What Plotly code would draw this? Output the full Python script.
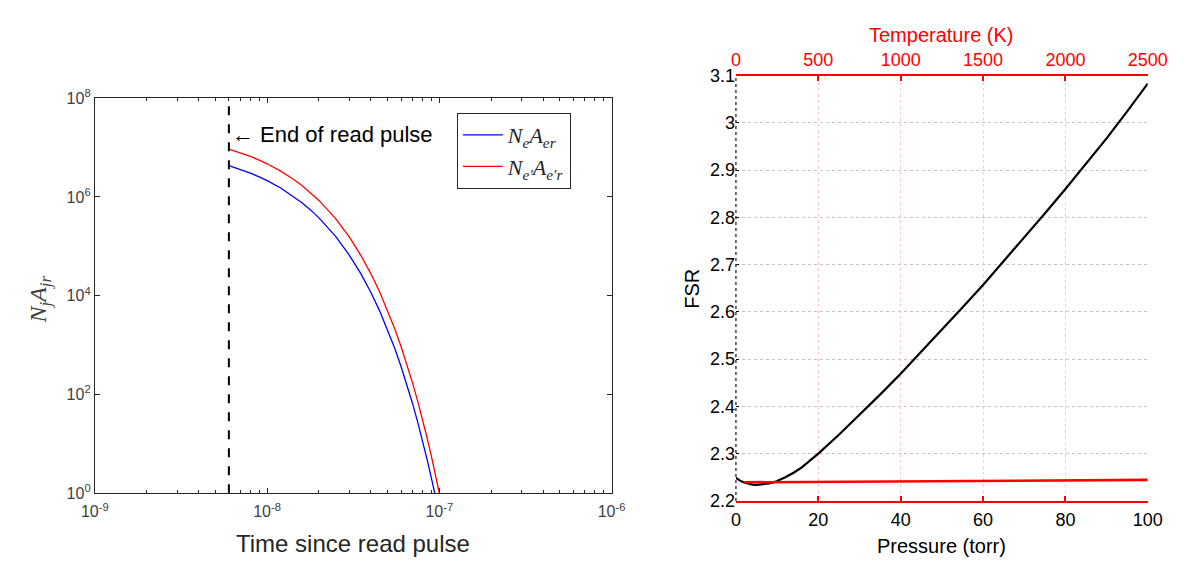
import plotly.graph_objects as go

# ---------------- data: left panel ----------------
t_pulse_end = 6e-9
t_blue_ns = [6, 7, 8, 9, 10, 12, 14, 16, 18, 20, 25, 30, 35, 40, 45, 50, 55, 60, 65, 70, 75, 80, 85, 90, 94]
n_blue = [4.3e6, 3.61e6, 3.04e6, 2.55e6, 2.15e6, 1.52e6, 1.07e6, 7.58e5, 5.35e5, 3.78e5, 1.59e5,
          6.67e4, 2.80e4, 1.18e4, 4.94e3, 2.07e3, 870, 365, 153, 64.4, 27.0, 11.3, 4.75, 2.0, 1.0]
t_red_ns = [6, 7, 8, 9, 10, 12, 14, 16, 18, 20, 25, 30, 35, 40, 45, 50, 55, 60, 65, 70, 75, 80, 85, 90, 95, 100]
n_red = [9.3e6, 7.84e6, 6.61e6, 5.57e6, 4.70e6, 3.34e6, 2.37e6, 1.69e6, 1.20e6, 8.53e5, 3.64e5,
         1.55e5, 6.59e4, 2.81e4, 1.20e4, 5.10e3, 2.17e3, 926, 394, 168, 71.6, 30.5, 13.0, 5.54, 2.36, 1.0]
x_tick_vals = [1e-9, 1e-8, 1e-7, 1e-6]
x_tick_text = ["10<sup>-9</sup>", "10<sup>-8</sup>", "10<sup>-7</sup>", "10<sup>-6</sup>"]
y_tick_vals = [1, 1e2, 1e4, 1e6, 1e8]
y_tick_text = ["10<sup>0</sup>", "10<sup>2</sup>", "10<sup>4</sup>", "10<sup>6</sup>", "10<sup>8</sup>"]

# ---------------- data: right panel ----------------
pressure = [0, 1, 2, 3, 4, 5, 6, 7, 8, 9, 10, 12, 14, 16, 18, 20, 25, 30, 35, 40, 45, 50, 55,
            60, 65, 70, 75, 80, 85, 90, 95, 100]
fsr_pressure = [2.249, 2.243, 2.239, 2.236, 2.2345, 2.234, 2.2345, 2.2355, 2.237, 2.239, 2.242,
                2.250, 2.2596, 2.2712, 2.2848, 2.300, 2.340, 2.382, 2.425, 2.469, 2.515,
                2.562, 2.609, 2.657, 2.707, 2.757, 2.808, 2.860, 2.913, 2.967, 3.024, 3.083]
temperature = [50, 500, 1000, 1500, 2000, 2500]
fsr_temperature = [2.2395, 2.2405, 2.2415, 2.2425, 2.2435, 2.2445]
p_ticks = [0, 20, 40, 60, 80, 100]
t_ticks = [0, 500, 1000, 1500, 2000, 2500]
fsr_ticks = [2.2, 2.3, 2.4, 2.5, 2.6, 2.7, 2.8, 2.9, 3.0, 3.1]
fsr_tick_text = ["2.2", "2.3", "2.4", "2.5", "2.6", "2.7", "2.8", "2.9", "3", "3.1"]

W, H = 1186, 561
FONT = "Liberation Sans, Arial, Helvetica, sans-serif"
SERIF = "Liberation Serif, DejaVu Serif, Times New Roman, serif"
AX = "#262626"

def px(x):
    return x / W

def py(y):
    return 1 - y / H

fig = go.Figure()

# left panel traces
fig.add_trace(go.Scatter(x=[t * 1e-9 for t in t_blue_ns], y=n_blue, mode="lines",
                         line=dict(color="#0000ff", width=1.3),
                         name="<i>N</i><sub><i>e</i></sub><i>A</i><sub><i>er</i></sub>",
                         xaxis="x", yaxis="y"))
fig.add_trace(go.Scatter(x=[t * 1e-9 for t in t_red_ns], y=n_red, mode="lines",
                         line=dict(color="#ff0000", width=1.3),
                         name="<i>N</i><sub><i>e\u2032</i></sub><i>A</i><sub><i>e\u2032r</i></sub>",
                         xaxis="x", yaxis="y"))
fig.add_trace(go.Scatter(x=[t_pulse_end, t_pulse_end], y=[1, 1e8], mode="lines",
                         line=dict(color="black", width=2, dash="dash"), showlegend=False,
                         xaxis="x", yaxis="y"))

# right panel traces
fig.add_trace(go.Scatter(x=pressure, y=fsr_pressure, mode="lines",
                         line=dict(color="black", width=2.2),
                         showlegend=False, xaxis="x2", yaxis="y2"))
fig.add_trace(go.Scatter(x=temperature, y=fsr_temperature, mode="lines",
                         line=dict(color="#ff0000", width=2.6), showlegend=False,
                         xaxis="x3", yaxis="y2"))

minor_x = [k * 10.0 ** e for e in (-9, -8, -7) for k in range(2, 10)]

fig.update_layout(
    width=W, height=H, autosize=False,
    margin=dict(l=0, r=0, t=0, b=0),
    paper_bgcolor="white", plot_bgcolor="white",
    font=dict(family=FONT, color=AX),
    xaxis=dict(type="log", range=[-9, -6], domain=[px(75), px(607)], anchor="y",
               tickvals=x_tick_vals, ticktext=x_tick_text, ticks="inside", ticklen=5,
               tickcolor=AX, showline=True, linecolor=AX, linewidth=1, mirror="allticks",
               showgrid=False, zeroline=False, tickfont=dict(size=16, color="#404040"),
               ticklabelstandoff=4,
               minor=dict(tickvals=minor_x, ticks="inside", ticklen=3, tickcolor=AX, showgrid=False)),
    yaxis=dict(type="log", range=[0, 8], domain=[py(492.7), py(82.3)], anchor="x",
               tickvals=y_tick_vals, ticktext=y_tick_text, ticks="inside", ticklen=5,
               tickcolor=AX, showline=True, linecolor=AX, linewidth=1, mirror="allticks",
               showgrid=False, zeroline=False, tickfont=dict(size=16, color="#404040")),
    xaxis2=dict(range=[0, 100], domain=[px(735), px(1159)], anchor="y2",
                tickvals=p_ticks, ticks="inside", ticklen=4, tickcolor="black",
                showline=False, showgrid=False, zeroline=False, ticklabelstandoff=6,
                tickfont=dict(size=18, color="black")),
    xaxis3=dict(range=[0, 2500], overlaying="x2", side="top", anchor="y2",
                tickvals=t_ticks, ticks="inside", ticklen=5, tickwidth=2, tickcolor="#ff0000",
                showline=True, linecolor="#ff0000", linewidth=2, mirror="ticks",
                showgrid=True, gridcolor="#ffc8c8", griddash="dot", gridwidth=1,
                zeroline=False, tickfont=dict(size=18, color="#ff0000")),
    yaxis2=dict(range=[2.2, 3.1], domain=[py(500.7), py(58.7)], anchor="x2",
                tickvals=fsr_ticks, ticktext=fsr_tick_text, ticks="inside", ticklen=3,
                tickcolor="black", showline=False, showgrid=True, gridcolor="#c4c4c4",
                griddash="dot", gridwidth=1, zeroline=False,
                tickfont=dict(size=18, color="black")),
    legend=dict(x=px(447.7), y=py(97.7), xanchor="left", yanchor="top",
                bgcolor="white", bordercolor="#262626", borderwidth=1,
                font=dict(family=SERIF, size=22, color="#262626"),
                tracegroupgap=0, itemwidth=40),
    shapes=[
        dict(type="line", xref="paper", yref="paper", x0=px(735), x1=px(735),
             y0=py(500.7), y1=py(58.7), line=dict(color="#404040", width=1.5, dash="dot")),
    ],
    annotations=[
        dict(text="\u2190 End of read pulse", x=px(214), y=py(120), xref="paper", yref="paper",
             xanchor="left", yanchor="middle", showarrow=False,
             font=dict(family=FONT, size=22, color="black")),
        dict(text="Time since read pulse", x=px(341), y=py(545), xref="paper", yref="paper",
             xanchor="center", yanchor="middle", showarrow=False,
             font=dict(family=FONT, size=24, color=AX)),
        dict(text="<i>N</i><sub><i>j</i></sub><i>A</i><sub><i>jr</i></sub>", x=px(19), y=py(291),
             xref="paper", yref="paper", xanchor="center", yanchor="middle", showarrow=False,
             textangle=-90, font=dict(family=SERIF, size=24, color="#404040")),
        dict(text="FSR", x=px(689), y=py(280), xref="paper", yref="paper",
             xanchor="center", yanchor="middle", showarrow=False, textangle=-90,
             font=dict(family=FONT, size=20, color="black")),
        dict(text="Pressure (torr)", x=px(947), y=py(547), xref="paper", yref="paper",
             xanchor="center", yanchor="middle", showarrow=False,
             font=dict(family=FONT, size=20, color="black")),
        dict(text="Temperature (K)", x=px(947), y=py(17), xref="paper", yref="paper",
             xanchor="center", yanchor="middle", showarrow=False,
             font=dict(family=FONT, size=20, color="#ff0000")),
    ],
)

fig.write_html("out.html")
